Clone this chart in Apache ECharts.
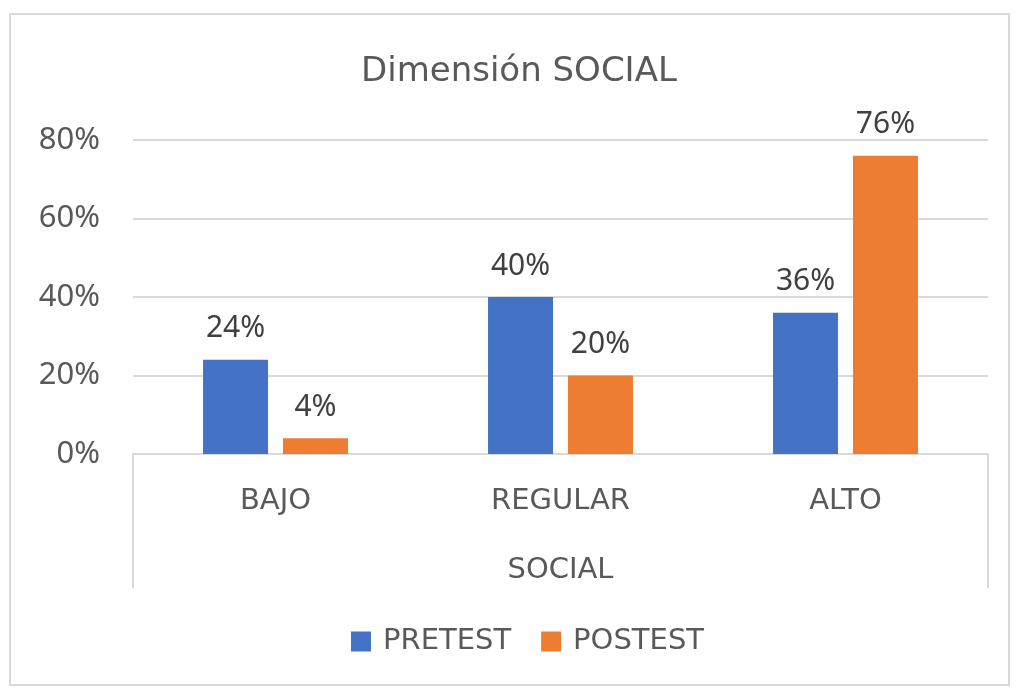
<!DOCTYPE html>
<html>
<head>
<meta charset="utf-8">
<script src="https://cdn.jsdelivr.net/npm/echarts@6/dist/echarts.min.js"></script>
<style>
  body { margin: 0; background: #fff; }
  #frame { position: absolute; left: 9px; top: 13px; width: 1001px; height: 673px; border: 2px solid #D9D9D9; box-sizing: border-box; }
  #main { position: absolute; left: 0; top: 0; width: 1018px; height: 690px; }
</style>
</head>
<body>
<div id="frame"></div>
<div id="main"></div>
<script>
// 数据
var categories = ['BAJO', 'REGULAR', 'ALTO'];
var pretest = [0.24, 0.40, 0.36];
var postest = [0.04, 0.20, 0.76];
var groupLabel = ['SOCIAL'];
var seriesNames = ['PRETEST', 'POSTEST'];

// 字体：数字用 Noto，字母用较宽的 DejaVu
var numFont = '"Noto Sans", "Open Sans", sans-serif';
var txtFont = '"DejaVu Sans", "Noto Sans", sans-serif';
var chart = echarts.init(document.getElementById('main'));

function pct(v) {
  return Math.round(v * 100) + '%';
}

var labelStyle = {
  show: true,
  position: 'top',
  distance: 16,
  color: '#404040',
  fontSize: 30,
  fontFamily: numFont,
  formatter: function (p) { return pct(p.value); }
};

var option = {
  animation: false,
  color: ['#4472C4', '#ED7D31'],
  title: {
    text: 'Dimensión SOCIAL',
    left: 356,
    top: 50,
    textStyle: { color: '#595959', fontSize: 34, fontWeight: 'normal', fontFamily: txtFont }
  },
  legend: {
    bottom: 29,
    left: 346,
    icon: 'rect',
    itemWidth: 20,
    itemHeight: 20,
    itemGap: 30,
    data: seriesNames,
    textStyle: { color: '#595959', fontSize: 29, fontFamily: txtFont, padding: [0, 0, 0, 7] }
  },
  grid: { left: 133, right: 30, top: 140, bottom: 236 },
  xAxis: [{
    type: 'category',
    data: categories,
    axisLine: { lineStyle: { color: '#D9D9D9', width: 2 } },
    axisTick: { show: false },
    axisLabel: { color: '#595959', fontSize: 29, fontFamily: txtFont, margin: 33 }
  }, {
    type: 'category',
    data: groupLabel,
    position: 'bottom',
    axisLine: { show: false },
    axisTick: { show: true, length: 134, lineStyle: { color: '#D9D9D9', width: 2 } },
    axisLabel: { color: '#595959', fontSize: 29, fontFamily: txtFont, margin: 102 }
  }],
  yAxis: {
    type: 'value',
    min: 0,
    max: 0.8,
    interval: 0.2,
    axisLine: { show: false },
    axisTick: { show: false },
    splitLine: { lineStyle: { color: '#D9D9D9', width: 2 } },
    axisLabel: {
      color: '#595959', fontSize: 31, fontFamily: numFont, margin: 33,
      formatter: function (v) { return pct(v); }
    }
  },
  series: [{
    name: seriesNames[0],
    type: 'bar',
    xAxisIndex: 0,
    data: pretest,
    barWidth: 65,
    barGap: '23%',
    label: labelStyle
  }, {
    name: seriesNames[1],
    type: 'bar',
    xAxisIndex: 0,
    data: postest,
    barWidth: 65,
    barGap: '23%',
    label: labelStyle
  }]
};

chart.setOption(option);
</script>
</body>
</html>
